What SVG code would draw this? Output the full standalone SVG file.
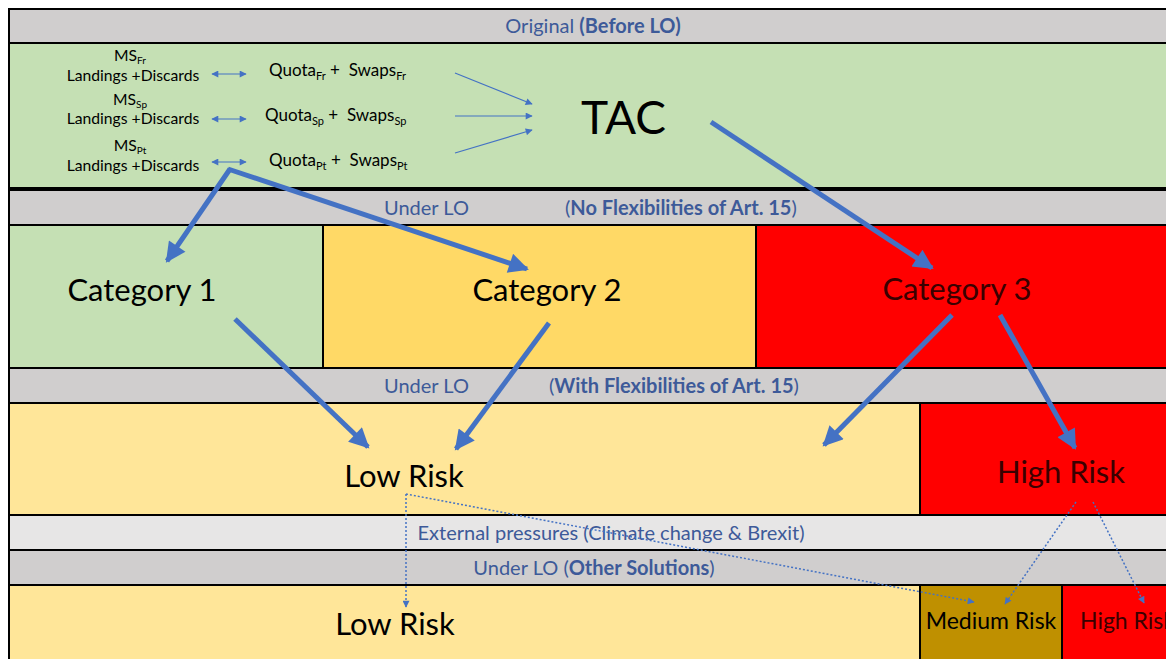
<svg xmlns="http://www.w3.org/2000/svg" width="1166" height="659" viewBox="0 0 1166 659">
<style>
  .band{stroke:#000;stroke-width:2}
  .gray{fill:#D0CECE}
  .lgray{fill:#E7E6E6}
  .green{fill:#C5E0B4}
  .yel{fill:#FFD966}
  .lyel{fill:#FFE699}
  .red{fill:#FF0000}
  .gold{fill:#BF9000}
  text{font-family:Lato,"Liberation Sans",sans-serif;white-space:pre}
  .hdr{font-size:20px;fill:#3D5A99}
  .b{font-weight:bold}
  .sm{font-size:15.7px;fill:#000}
  .q{font-size:17px;fill:#000}
  .big{font-size:31px;fill:#000}
  .dk{fill:#3a0000}
  .thick{stroke:#4472C4;stroke-width:5;fill:none}
  .thin{stroke:#4472C4;stroke-width:1.2;fill:none}
  .dot{stroke:#4472C4;stroke-width:1.5;stroke-dasharray:2 2;fill:none}
</style>
<defs>
  <marker id="ah" viewBox="0 0 10 10" refX="9" refY="5" markerWidth="22" markerHeight="20" markerUnits="userSpaceOnUse" orient="auto">
    <path d="M0,0 L10,5 L0,10 z" fill="#4472C4"/>
  </marker>
  <marker id="as" viewBox="0 0 10 10" refX="9" refY="5" markerWidth="8" markerHeight="7" markerUnits="userSpaceOnUse" orient="auto">
    <path d="M0,0 L10,5 L0,10 z" fill="#4472C4"/>
  </marker>
  <marker id="asr" viewBox="0 0 10 10" refX="1" refY="5" markerWidth="8" markerHeight="7" markerUnits="userSpaceOnUse" orient="auto">
    <path d="M10,0 L0,5 L10,10 z" fill="#4472C4"/>
  </marker>
</defs>
<rect width="1166" height="659" fill="#fff"/>

<g id="original-header">
  <rect class="band gray" x="9" y="9" width="1160" height="34"/>
  <text class="hdr" x="593" y="33" text-anchor="middle">Original <tspan class="b">(Before LO)</tspan></text>
</g>

<g id="original">
  <rect class="band green" x="9" y="43" width="1160" height="145"/>
  <line x1="9" y1="189" x2="1166" y2="189" stroke="#000" stroke-width="3"/>
  <text class="sm" x="130" y="61" text-anchor="middle">MS<tspan font-size="10" dy="3">Fr</tspan></text>
  <text class="sm" x="133" y="81" text-anchor="middle">Landings +Discards</text>
  <text class="sm" x="130" y="105" text-anchor="middle">MS<tspan font-size="10" dy="3">Sp</tspan></text>
  <text class="sm" x="133" y="124" text-anchor="middle">Landings +Discards</text>
  <text class="sm" x="130" y="151" text-anchor="middle">MS<tspan font-size="10" dy="3">Pt</tspan></text>
  <text class="sm" x="133" y="171" text-anchor="middle">Landings +Discards</text>
  <text class="q" x="269" y="76">Quota<tspan font-size="11" dy="4">Fr</tspan><tspan dy="-4"> +  Swaps</tspan><tspan font-size="11" dy="4">Fr</tspan></text>
  <text class="q" x="265" y="121">Quota<tspan font-size="11" dy="4">Sp</tspan><tspan dy="-4"> +  Swaps</tspan><tspan font-size="11" dy="4">Sp</tspan></text>
  <text class="q" x="269" y="166">Quota<tspan font-size="11" dy="4">Pt</tspan><tspan dy="-4"> +  Swaps</tspan><tspan font-size="11" dy="4">Pt</tspan></text>
  <text x="581" y="134" style="font-size:46px;fill:#000">TAC</text>
</g>

<g id="no-flex-header">
  <rect class="band gray" x="9" y="190" width="1160" height="35"/>
  <text class="hdr" x="384" y="215">Under LO</text>
  <text class="hdr" x="565" y="215">(<tspan class="b">No Flexibilities of Art. 15</tspan>)</text>
</g>

<g id="category-1">
  <rect class="band green" x="9" y="225" width="314" height="143"/>
  <text class="big" x="142" y="301" text-anchor="middle">Category 1</text>
</g>
<g id="category-2">
  <rect class="band yel" x="323" y="225" width="433" height="143"/>
  <text class="big" x="547" y="301" text-anchor="middle">Category 2</text>
</g>
<g id="category-3">
  <rect class="band red" x="756" y="225" width="413" height="143"/>
  <text class="big dk" x="957" y="300" text-anchor="middle">Category 3</text>
</g>

<g id="with-flex-header">
  <rect class="band gray" x="9" y="368" width="1160" height="35"/>
  <text class="hdr" x="384" y="393">Under LO</text>
  <text class="hdr" x="549" y="393">(<tspan class="b">With Flexibilities of Art. 15</tspan>)</text>
</g>

<g id="low-risk-1">
  <rect class="band lyel" x="9" y="403" width="911" height="112"/>
  <text class="big" x="404" y="487" text-anchor="middle">Low Risk</text>
</g>
<g id="high-risk-1">
  <rect class="band red" x="920" y="403" width="249" height="112"/>
  <text class="big dk" x="1061" y="483" text-anchor="middle">High Risk</text>
</g>

<g id="external-pressures">
  <rect class="band lgray" x="9" y="515" width="1160" height="35"/>
  <text class="hdr" x="611" y="540" text-anchor="middle">External pressures (Climate change &amp; Brexit)</text>
</g>

<g id="other-solutions-header">
  <rect class="band gray" x="9" y="550" width="1160" height="35"/>
  <text class="hdr" x="594" y="575" text-anchor="middle">Under LO (<tspan class="b">Other Solutions</tspan>)</text>
</g>

<g id="low-risk-2">
  <rect class="band lyel" x="9" y="585" width="911" height="76"/>
  <text class="big" x="395" y="635" text-anchor="middle">Low Risk</text>
</g>
<g id="medium-risk">
  <rect class="band gold" x="920" y="585" width="142" height="76"/>
  <text x="991" y="629" text-anchor="middle" style="font-size:23px;fill:#000">Medium Risk</text>
</g>
<g id="high-risk-2">
  <rect class="band red" x="1062" y="585" width="107" height="76"/>
  <text class="dk" x="1080" y="629" style="font-size:23px">High Risk</text>
</g>

<g id="connectors">
  <line class="thin" x1="212" y1="74" x2="246" y2="74" marker-start="url(#asr)" marker-end="url(#as)"/>
  <line class="thin" x1="212" y1="119" x2="246" y2="119" marker-start="url(#asr)" marker-end="url(#as)"/>
  <line class="thin" x1="212" y1="162" x2="246" y2="162" marker-start="url(#asr)" marker-end="url(#as)"/>
  <line class="thin" x1="455" y1="73" x2="532" y2="104" marker-end="url(#as)"/>
  <line class="thin" x1="455" y1="116" x2="532" y2="116" marker-end="url(#as)"/>
  <line class="thin" x1="455" y1="153" x2="532" y2="130" marker-end="url(#as)"/>

  <path class="thick" d="M230,169 L167,261" marker-end="url(#ah)"/>
  <path class="thick" d="M228,169 L527,269" marker-end="url(#ah)"/>
  <path class="thick" d="M711,122 L932,268" marker-end="url(#ah)"/>
  <path class="thick" d="M235,319 L368,447" marker-end="url(#ah)"/>
  <path class="thick" d="M549,323 L456,449" marker-end="url(#ah)"/>
  <path class="thick" d="M952,315 L824,445" marker-end="url(#ah)"/>
  <path class="thick" d="M1000,315 L1075,448" marker-end="url(#ah)"/>

  <path class="dot" d="M406,494 L406,607" marker-end="url(#as)"/>
  <path class="dot" d="M406,494 L974,602" marker-end="url(#as)"/>
  <path class="dot" d="M1076,502 L1005,604" marker-end="url(#as)"/>
  <path class="dot" d="M1093,502 L1144,603" marker-end="url(#as)"/>
</g>
</svg>
